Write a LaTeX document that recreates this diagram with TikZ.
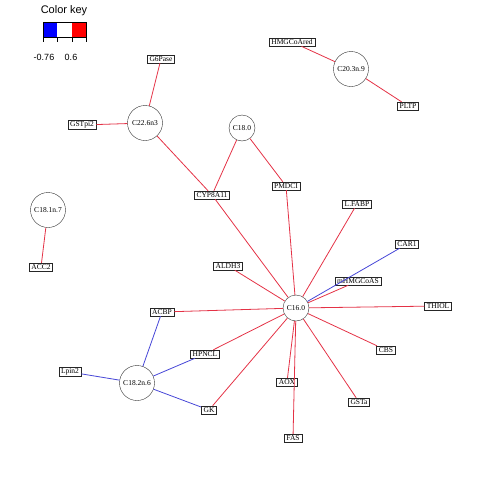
\documentclass[tikz,border=0pt]{standalone}
\usepackage{fontspec}
\setmainfont{Liberation Serif}
\setsansfont{Liberation Sans}
\usetikzlibrary{shapes}
\definecolor{posred}{RGB}{228,50,70}
\definecolor{negblue}{RGB}{70,70,215}
\tikzstyle{vertex}=[circle,draw=black!80,fill=white,minimum size=35pt,inner sep=0pt,font=\fontsize{7.5}{8}\selectfont]
\tikzstyle{smallvertex}=[vertex,minimum size=26pt]
\tikzstyle{gene}=[rectangle,draw=black!85,line width=0.6pt,fill=white,inner xsep=2.2pt,inner ysep=1.4pt,font=\fontsize{7.5}{8}\selectfont]
\tikzstyle{posedge} = [draw,posred,line width=0.8pt]
\tikzstyle{negedge} = [draw,negblue,line width=0.8pt]
\tikzstyle{keylabel} = [font=\sffamily\fontsize{9}{10}\selectfont]

\begin{document}
\begin{tikzpicture}[x=1pt,y=-1pt]
    \useasboundingbox (0,0) rectangle (480,480);
    % Color key in the corner
    \node[font=\sffamily\fontsize{11}{12}\selectfont] (keytitle) at (64,11) {Color key};
    \fill[blue] (43,22) rectangle (57,37);
    \fill[red] (72,22) rectangle (86,37);
    \draw[line width=0.6pt] (43,22) rectangle (86,37);
    \foreach \x in {43,57,72,86}
        \draw[line width=0.6pt] (\x,37) -- (\x,42);
    \node[keylabel] (keymin) at (44,57) {-0.76};
    \node[keylabel] (keymax) at (71,57) {0.6};

    % First we draw the fatty acids
    \foreach \pos/ \name/ \txt in {{(145,123)/C226/C22.6n3},{(351,69)/C203/C20.3n.9},
        {(48,210)/C181/C18.1n.7},{(137,383)/C182/C18.2n.6}}
        \node[vertex] (\name) at \pos {\txt};

    \foreach \pos/ \name/ \txt in {{(242,128)/C180/C18.0},{(296,308)/C160/C16.0}}
        \node[smallvertex] (\name) at \pos {\txt};

    % Then the genes
    \foreach \pos/ \name in {{(161,59)/G6Pase},{(82,125)/GSTpi2},{(212,195)/CYP8A11},
        {(292,42)/HMGCoAred},{(408,106)/PLTP},{(286,186)/PMDCI},
        {(407,244)/CAR1},{(228,266)/ALDH3},{(358,281)/mHMGCoAS},{(438,306)/THIOL},
        {(386,350)/CBS},{(205,354)/HPNCL},{(287,382)/AOX},{(359,402)/GSTa},
        {(209,410)/GK},{(293,438)/FAS},{(41,267)/ACC2},{(162,312)/ACBP},{(70,372)/Lpin2}}
        \node[gene] (\name) at \pos {\name};
    \node[gene] (LFABP) at (357,204) {L.FABP};

    % Connect them, red for positive and blue for negative
    \foreach \source/ \dest in {C226/G6Pase, C226/GSTpi2, C226/CYP8A11, C180/CYP8A11,
        C180/PMDCI, C203/HMGCoAred, C203/PLTP, C181/ACC2, C160/CYP8A11, C160/PMDCI,
        C160/LFABP, C160/ALDH3, C160/mHMGCoAS, C160/THIOL, C160/CBS, C160/GSTa,
        C160/FAS, C160/AOX, C160/GK, C160/HPNCL, C160/ACBP}
        \path[posedge] (\source) -- (\dest);

    \foreach \source/ \dest in {C160/CAR1, C182/ACBP, C182/Lpin2, C182/HPNCL, C182/GK}
        \path[negedge] (\source) -- (\dest);

\end{tikzpicture}
\end{document}
